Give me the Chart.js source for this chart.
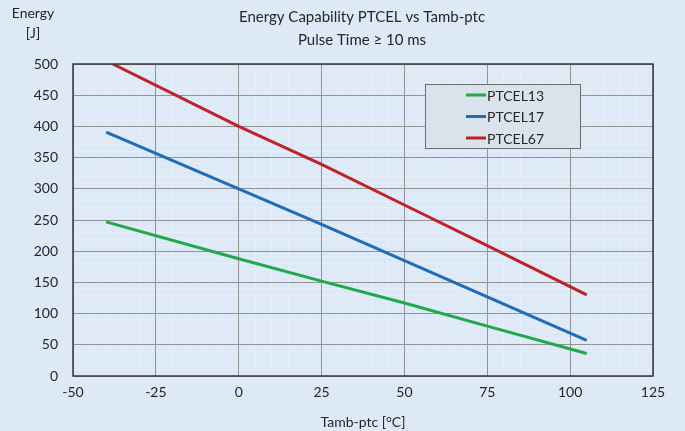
<!DOCTYPE html>
<html>
<head>
<meta charset="utf-8">
<script src="https://cdn.jsdelivr.net/npm/chart.js@4.4.0/dist/chart.umd.min.js"></script>
<style>
  html, body { margin: 0; padding: 0; background: #dde9f6; }
  canvas { display: block; }
</style>
</head>
<body>
<canvas id="energyChart" width="685" height="431"></canvas>
<script>
// values
const seriesNames = ["PTCEL13", "PTCEL17", "PTCEL67"];
const ptcel13 = [{x: -40, y: 247}, {x: 0, y: 188}, {x: 25, y: 152}, {x: 50, y: 117}, {x: 75, y: 80}, {x: 105, y: 36}];
const ptcel17 = [{x: -40, y: 391}, {x: 0, y: 300}, {x: 25, y: 243}, {x: 50, y: 185}, {x: 75, y: 127}, {x: 105, y: 57}];
const ptcel67 = [{x: -38, y: 500}, {x: 0, y: 400}, {x: 25, y: 339}, {x: 50, y: 274}, {x: 75, y: 209}, {x: 105, y: 130}];
const xTicks = [-50, -25, 0, 25, 50, 75, 100, 125];
const yTicks = [0, 50, 100, 150, 200, 250, 300, 350, 400, 450, 500];

const titleLines = ["Energy Capability PTCEL vs Tamb-ptc", "Pulse Time \u2265 10 ms"];
const yTitleLines = ["Energy", "[J]"];
const xTitle = "Tamb-ptc [\u00b0C]";

const FONT = "Lato, 'Open Sans', sans-serif";
const TEXT = "#262626";

const frameAndText = {
  id: "frameAndText",
  afterDraw(chart) {
    const ctx = chart.ctx;
    const a = chart.chartArea;
    ctx.save();
    // plot border
    ctx.strokeStyle = "#3a3a3a";
    ctx.lineWidth = 1.5;
    ctx.strokeRect(a.left, a.top, a.right - a.left, a.bottom - a.top);

    ctx.fillStyle = TEXT;
    ctx.textAlign = "center";
    ctx.textBaseline = "middle";
    ctx.font = "15px " + FONT;
    ctx.fillText(titleLines[0], 362, 17);
    ctx.fillText(titleLines[1], 362, 40);

    ctx.font = "14px " + FONT;
    ctx.fillText(yTitleLines[0], 33, 13);
    ctx.fillText(yTitleLines[1], 33, 33);

    // legend box
    const lx = 425, ly = 84, lw = 155, lh = 64;
    ctx.fillStyle = "#dae3ec";
    ctx.fillRect(lx, ly, lw, lh);
    ctx.strokeStyle = "#6b6b6b";
    ctx.lineWidth = 1;
    ctx.strokeRect(lx + 0.5, ly + 0.5, lw, lh);
    ctx.textAlign = "left";
    ctx.font = "14px " + FONT;
    chart.data.datasets.forEach((ds, i) => {
      const yy = 95 + i * 21.5;
      ctx.strokeStyle = ds.borderColor;
      ctx.lineWidth = 3;
      ctx.beginPath();
      ctx.moveTo(466, yy);
      ctx.lineTo(486, yy);
      ctx.stroke();
      ctx.fillStyle = TEXT;
      ctx.fillText(ds.label, 487, yy + 1);
    });
    ctx.restore();
  }
};

new Chart(document.getElementById("energyChart"), {
  type: "scatter",
  data: {
    datasets: [
      { label: seriesNames[0], data: ptcel13, borderColor: "#21a84a" },
      { label: seriesNames[1], data: ptcel17, borderColor: "#1f6db8" },
      { label: seriesNames[2], data: ptcel67, borderColor: "#bf2229" },
    ].map(d => Object.assign(d, {
      showLine: true, borderWidth: 3, pointRadius: 0, fill: false, tension: 0,
      backgroundColor: d.borderColor, clip: 0
    }))
  },
  options: {
    responsive: false,
    animation: false,
    devicePixelRatio: 1,
    layout: { padding: { top: 64, right: 32, left: 0, bottom: 0 } },
    plugins: { legend: { display: false }, tooltip: { enabled: false } },
    scales: {
      xMinor: {
        type: "linear", position: "bottom", min: -50, max: 125, z: -1,
        ticks: { display: false, stepSize: 5 },
        grid: { color: "#e6eef8", lineWidth: 1, drawTicks: false },
        border: { display: false },
        afterFit(s) { s.height = 0; }
      },
      yMinor: {
        type: "linear", position: "left", min: 0, max: 500, z: -1,
        ticks: { display: false, stepSize: 10 },
        grid: { color: "#e6eef8", lineWidth: 1, drawTicks: false },
        border: { display: false },
        afterFit(s) { s.width = 0; }
      },
      x: {
        type: "linear", position: "bottom", min: -50, max: 125,
        afterBuildTicks(s) { s.ticks = xTicks.map(v => ({ value: v })); },
        ticks: { color: TEXT, font: { family: FONT, size: 14 }, padding: 8 },
        grid: { color: "#939393", lineWidth: 1, drawTicks: false },
        border: { display: false },
        title: { display: true, text: xTitle, color: TEXT, font: { family: FONT, size: 14 }, padding: { top: 0, bottom: 0 } },
        afterFit(s) { s.height = 55; }
      },
      y: {
        type: "linear", position: "left", min: 0, max: 500,
        afterBuildTicks(s) { s.ticks = yTicks.map(v => ({ value: v })); },
        ticks: { color: TEXT, font: { family: FONT, size: 14 }, padding: 15 },
        grid: { color: "#939393", lineWidth: 1, drawTicks: false },
        border: { display: false },
        afterFit(s) { s.width = 73; }
      }
    }
  },
  plugins: [frameAndText]
});
</script>
</body>
</html>
